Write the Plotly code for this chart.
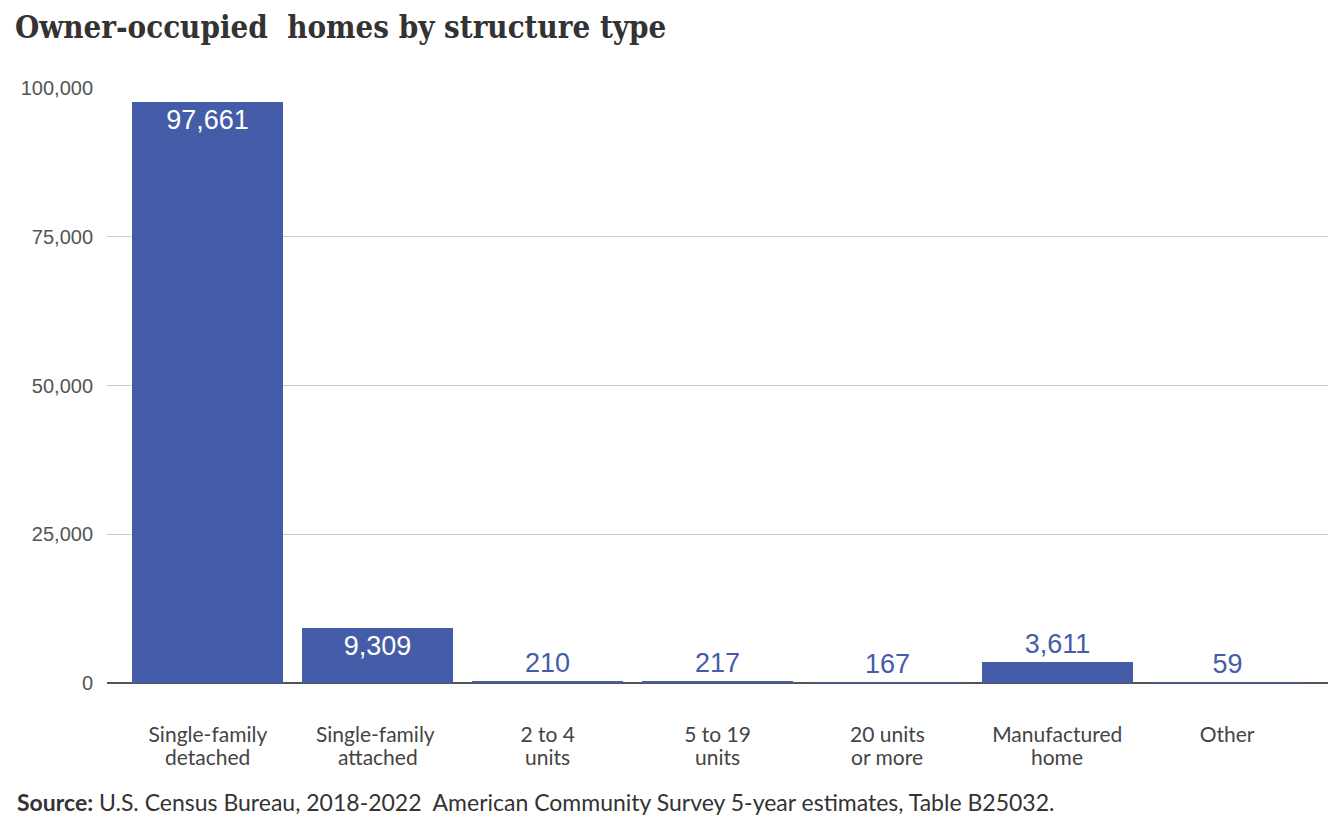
import plotly.graph_objects as go

# === Data ===
categories = ["Single-family", "Single-family ", "2 to 4", "5 to 19", "20 units", "Manufactured", "Other"]
second_lines = ["detached", "attached", "units", "units", "or more", "home", ""]
homes = [97661, 9309, 210, 217, 167, 3611, 59]
y_ticks = [0, 25000, 50000, 75000, 100000]

bar_color = "#455ca8"

fig = go.Figure()
fig.add_trace(go.Bar(
    x=categories,
    y=homes,
    width=0.89,
    marker=dict(color=bar_color, line=dict(width=0)),
    text=[f"{v:,}" for v in homes],
    textposition="auto",
    insidetextanchor="end",
    insidetextfont=dict(family="Liberation Sans", size=27, color="white"),
    outsidetextfont=dict(family="Liberation Sans", size=27, color=bar_color),
    cliponaxis=False,
    hoverinfo="y",
))

# second line of each category label (tighter line spacing than <br>)
label_notes = [
    dict(text=txt, xref="x", yref="paper", x=cat, y=-0.1227,
         xanchor="center", yanchor="middle", showarrow=False,
         font=dict(family="Lato", size=21, color="#444444"))
    for cat, txt in zip(categories, second_lines) if txt
]

fig.update_layout(
    width=1336, height=822,
    margin=dict(l=99, r=16, t=80, b=147),
    paper_bgcolor="white", plot_bgcolor="white",
    showlegend=False,
    bargap=0,
    title=dict(
        text="<b>Owner-occupied  homes by structure type</b>",
        x=0.0052, xanchor="left", y=0.977, yanchor="middle",
        font=dict(family="DejaVu Serif Condensed, DejaVu Serif", size=31, color="#333333"),
    ),
    xaxis=dict(
        range=[-0.594, 6.594],
        showline=False, showgrid=False, zeroline=False,
        ticks="", ticklabelstandoff=37,
        tickfont=dict(family="Lato", size=21, color="#444444"),
    ),
    yaxis=dict(
        range=[0, 100000],
        tickvals=y_ticks,
        tickformat=",d",
        showgrid=True, gridcolor="#cccccc", gridwidth=1,
        zeroline=True, zerolinecolor="#555555", zerolinewidth=2,
        showline=False, ticks="", ticklabelstandoff=13,
        tickfont=dict(family="Liberation Sans", size=20, color="#555555"),
    ),
    annotations=label_notes + [dict(
        text="<b>Source:</b> U.S. Census Bureau, 2018-2022  American Community Survey 5-year estimates, Table B25032.",
        xref="paper", yref="paper", x=-0.0753, y=-0.2,
        xanchor="left", yanchor="middle", showarrow=False,
        font=dict(family="Lato", size=23, color="#333333"),
    )],
)

fig.write_html("out.html")
